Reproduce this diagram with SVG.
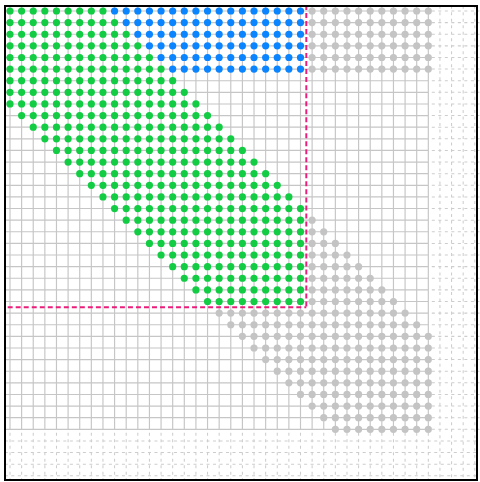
<svg xmlns="http://www.w3.org/2000/svg" width="480" height="482" viewBox="0 0 480 482">
<style>
.solid{fill:none;stroke:#c6c6c6;stroke-width:0.1}
.dash{fill:none;stroke:#cdcdcd;stroke-width:0.09;stroke-dasharray:0.26 0.3}
.dots{fill:none;stroke-width:0.62;stroke-linecap:round;stroke-dasharray:0 1}
.g{stroke:#12cc44}
.b{stroke:#0a84ff}
.k{stroke:#c4c4c4}
.guide{fill:none;stroke:#e91e7a;stroke-width:0.17;stroke-dasharray:0.43 0.26}
</style>
<rect x="0" y="0" width="480" height="482" fill="#fff"/>
<g transform="translate(10,11) scale(11.62)">
<g id="grid">
<path class="solid" d="M0 -0.45V36M1 -0.45V36M2 -0.45V36M3 -0.45V36M4 -0.45V36M5 -0.45V36M6 -0.45V36M7 -0.45V36M8 -0.45V36M9 -0.45V36M10 -0.45V36M11 -0.45V36M12 -0.45V36M13 -0.45V36M14 -0.45V36M15 -0.45V36M16 -0.45V36M17 -0.45V36M18 -0.45V36M19 -0.45V36M20 -0.45V36M21 -0.45V36M22 -0.45V36M23 -0.45V36M24 -0.45V36M25 -0.45V36M26 -0.45V36M27 -0.45V36M28 -0.45V36M29 -0.45V36M30 -0.45V36M31 -0.45V36M32 -0.45V36M33 -0.45V36M34 -0.45V36M35 -0.45V36M36 -0.45V36M-0.45 0H36M-0.45 1H36M-0.45 2H36M-0.45 3H36M-0.45 4H36M-0.45 5H36M-0.45 6H36M-0.45 7H36M-0.45 8H36M-0.45 9H36M-0.45 10H36M-0.45 11H36M-0.45 12H36M-0.45 13H36M-0.45 14H36M-0.45 15H36M-0.45 16H36M-0.45 17H36M-0.45 18H36M-0.45 19H36M-0.45 20H36M-0.45 21H36M-0.45 22H36M-0.45 23H36M-0.45 24H36M-0.45 25H36M-0.45 26H36M-0.45 27H36M-0.45 28H36M-0.45 29H36M-0.45 30H36M-0.45 31H36M-0.45 32H36M-0.45 33H36M-0.45 34H36M-0.45 35H36M-0.45 36H36"/>
<path class="dash" d="M0 36.3V40.4M1 36.3V40.4M2 36.3V40.4M3 36.3V40.4M4 36.3V40.4M5 36.3V40.4M6 36.3V40.4M7 36.3V40.4M8 36.3V40.4M9 36.3V40.4M10 36.3V40.4M11 36.3V40.4M12 36.3V40.4M13 36.3V40.4M14 36.3V40.4M15 36.3V40.4M16 36.3V40.4M17 36.3V40.4M18 36.3V40.4M19 36.3V40.4M20 36.3V40.4M21 36.3V40.4M22 36.3V40.4M23 36.3V40.4M24 36.3V40.4M25 36.3V40.4M26 36.3V40.4M27 36.3V40.4M28 36.3V40.4M29 36.3V40.4M30 36.3V40.4M31 36.3V40.4M32 36.3V40.4M33 36.3V40.4M34 36.3V40.4M35 36.3V40.4M36 36.3V40.4M37 -0.45V40.4M38 -0.45V40.4M39 -0.45V40.4M40 -0.45V40.4M36.3 0H40.4M36.3 1H40.4M36.3 2H40.4M36.3 3H40.4M36.3 4H40.4M36.3 5H40.4M36.3 6H40.4M36.3 7H40.4M36.3 8H40.4M36.3 9H40.4M36.3 10H40.4M36.3 11H40.4M36.3 12H40.4M36.3 13H40.4M36.3 14H40.4M36.3 15H40.4M36.3 16H40.4M36.3 17H40.4M36.3 18H40.4M36.3 19H40.4M36.3 20H40.4M36.3 21H40.4M36.3 22H40.4M36.3 23H40.4M36.3 24H40.4M36.3 25H40.4M36.3 26H40.4M36.3 27H40.4M36.3 28H40.4M36.3 29H40.4M36.3 30H40.4M36.3 31H40.4M36.3 32H40.4M36.3 33H40.4M36.3 34H40.4M36.3 35H40.4M36.3 36H40.4M-0.45 37H40.4M-0.45 38H40.4M-0.45 39H40.4M-0.45 40H40.4"/>
</g>
<g id="dots-gray">
<path class="dots k" d="M26 0H36.01M26 1H36.01M26 2H36.01M26 3H36.01M26 4H36.01M26 5H36.01M26 18H26.01M26 19H27.01M26 20H28.01M26 21H29.01M26 22H30.01M26 23H31.01M26 24H32.01M26 25H33.01M18 26H34.01M19 27H35.01M20 28H36.01M21 29H36.01M22 30H36.01M23 31H36.01M24 32H36.01M25 33H36.01M26 34H36.01M27 35H36.01M28 36H36.01"/>
</g>
<g id="dots-blue">
<path class="dots b" d="M9 0H25.01M10 1H25.01M11 2H25.01M12 3H25.01M13 4H25.01M14 5H25.01"/>
</g>
<g id="dots-green">
<path class="dots g" d="M0 0H8.01M0 1H9.01M0 2H10.01M0 3H11.01M0 4H12.01M0 5H13.01M0 6H14.01M0 7H15.01M0 8H16.01M1 9H17.01M2 10H18.01M3 11H19.01M4 12H20.01M5 13H21.01M6 14H22.01M7 15H23.01M8 16H24.01M9 17H25.01M10 18H25.01M11 19H25.01M12 20H25.01M13 21H25.01M14 22H25.01M15 23H25.01M16 24H25.01M17 25H25.01"/>
</g>
<g id="guides">
<path class="guide" d="M25.5 -0.52V25.5"/>
<path class="guide" d="M-0.2 25.5H25.5"/>
</g>
</g>
<g id="frame">
<rect x="5" y="6" width="472" height="474" fill="none" stroke="#000" stroke-width="2"/>
</g>
</svg>
